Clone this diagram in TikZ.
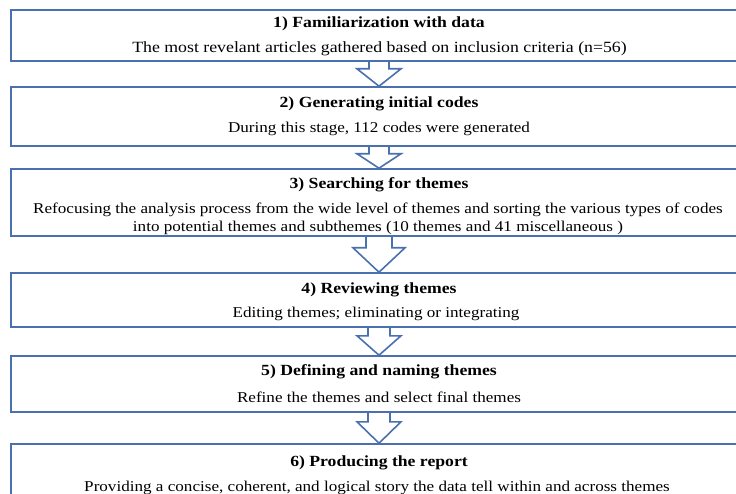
\documentclass[tikz,border=0pt]{standalone}
\usepackage{fontspec}
\setmainfont{Liberation Serif}
\newfontfamily\widefont[FakeStretch=1.14]{Liberation Serif}
\usetikzlibrary{calc}
\definecolor{boxblue}{RGB}{74,112,175}
\tikzset{
  stage/.style={draw=boxblue, line width=1.6pt, minimum width=736pt, inner sep=0pt},
  ttl/.style={font=\widefont\fontsize{15.5}{17}\selectfont\bfseries, inner sep=0pt},
  sub/.style={font=\widefont\fontsize{15}{17.5}\selectfont, align=center, inner sep=0pt},
  arrowline/.style={draw=boxblue, line width=1.6pt, line join=miter},
}
\newcommand\blockarr[5]{%
  \draw[arrowline] ($(#1.south)+(-#3,0)$) |- ($(#1.south)+(-#4,#5)$) -- (#2.north)
    -- ($(#1.south)+(#4,#5)$) -| ($(#1.south)+(#3,0)$);}
\begin{document}
\begin{tikzpicture}[x=1pt,y=-1pt]
\useasboundingbox (0,0) rectangle (736,494);
\clip (0,0) rectangle (736,494);
\node[stage, minimum height=51pt] (b1) at (379,35.5) {};
\node[stage, minimum height=59pt] (b2) at (379,116.5) {};
\node[stage, minimum height=67pt] (b3) at (379,202.5) {};
\node[stage, minimum height=54pt] (b4) at (379,300) {};
\node[stage, minimum height=56pt] (b5) at (379,384) {};
\node[stage, minimum height=61pt] (b6) at (379,474.5) {};

\node[ttl] (t1) at (379,23.5) {1) Familiarization with data};
\node[sub, font=\widefont\fontsize{15.6}{17.5}\selectfont] (s1) at (379.5,48.5) {The most revelant articles gathered based on inclusion criteria (n=56)};
\node[ttl] (t2) at (379,103.5) {2) Generating initial codes};
\node[sub] (s2) at (379,129) {During this stage, 112 codes were generated};
\node[ttl] (t3) at (379,185) {3) Searching for themes};
\node[sub] (s3) at (378,219) {Refocusing the analysis process from the wide level of themes and sorting the various types of codes\\into potential themes and subthemes (10 themes and 41 miscellaneous )};
\node[ttl] (t4) at (379,290) {4) Reviewing themes};
\node[sub] (s4) at (376,314) {Editing themes; eliminating or integrating};
\node[ttl] (t5) at (379,372) {5) Defining and naming themes};
\node[sub] (s5) at (379,397) {Refine the themes and select final themes};
\node[ttl] (t6) at (379,463) {6) Producing the report};
\node[sub] (s6) at (377,488) {Providing a concise, coherent, and logical story the data tell within and across themes};

\blockarr{b1}{b2}{10}{22}{7}
\blockarr{b2}{b3}{10}{22}{7}
\blockarr{b3}{b4}{13}{26}{11}
\blockarr{b4}{b5}{11}{22}{8}
\blockarr{b5}{b6}{11}{22}{9}
\end{tikzpicture}
\end{document}
